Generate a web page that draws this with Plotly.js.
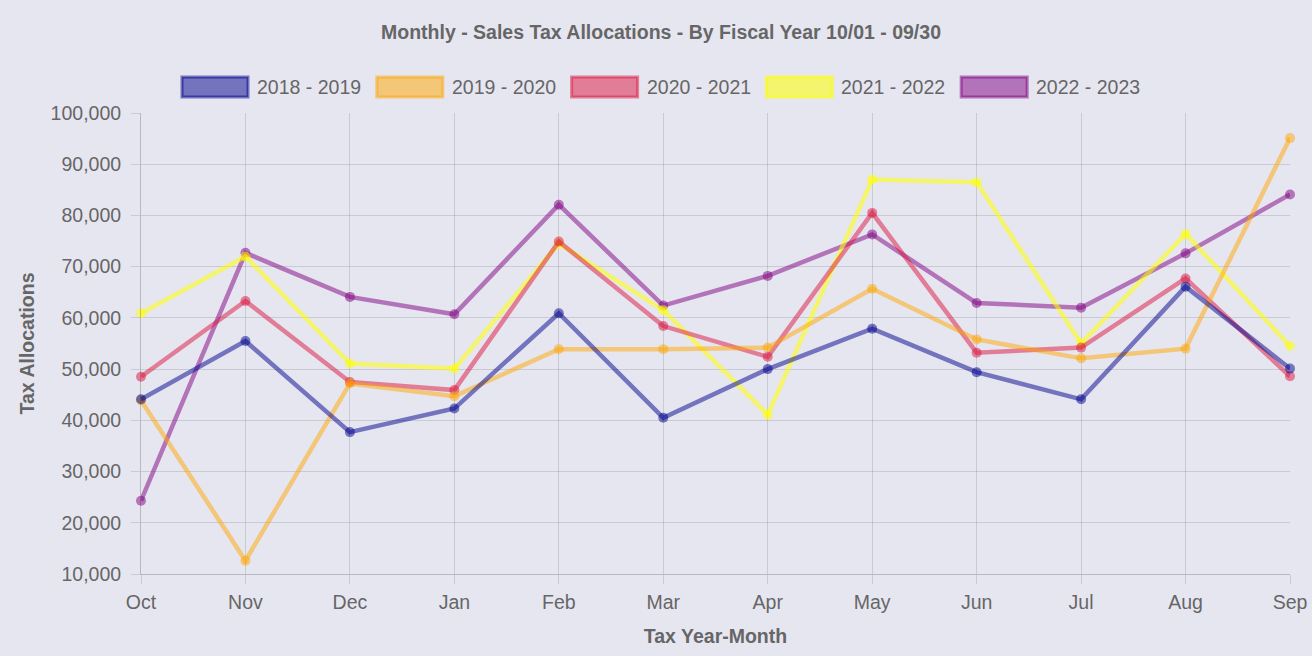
<!DOCTYPE html>
<html>
<head>
<meta charset="utf-8">
<script src="https://cdn.plot.ly/plotly-3.0.1.min.js"></script>
<style>
html,body{margin:0;padding:0;background:#e6e6f1;}
#chart{width:1312px;height:656px;}
</style>
</head>
<body>
<div id="chart"></div>
<script>
const months = ["Oct","Nov","Dec","Jan","Feb","Mar","Apr","May","Jun","Jul","Aug","Sep"];
const seriesNames = ["2018 - 2019","2019 - 2020","2020 - 2021","2021 - 2022","2022 - 2023"];
const fy2018 = [44100, 55500, 37700, 42300, 60900, 40500, 50000, 57900, 49400, 44100, 66100, 50100];
const fy2019 = [43900, 12600, 47200, 44700, 53900, 53900, 54200, 65700, 55800, 52100, 54000, 95100];
const fy2020 = [48500, 63300, 47500, 45900, 74900, 58400, 52400, 80500, 53200, 54200, 67700, 48600];
const fy2021 = [60900, 72000, 51100, 50100, 74500, 61500, 41100, 87000, 86500, 55000, 76400, 54500];
const fy2022 = [24300, 72700, 64100, 60700, 82100, 62400, 68200, 76300, 62900, 62000, 72600, 84100];

const seriesValues = [fy2018, fy2019, fy2020, fy2021, fy2022];
const lineColors = ["rgba(0,0,139,0.5)","rgba(255,165,0,0.5)","rgba(220,20,60,0.5)","rgba(255,255,0,0.55)","rgba(128,0,128,0.5)"];
const fillColors = ["rgba(0,0,139,0.5)","rgba(255,165,0,0.5)","rgba(220,20,60,0.5)","rgba(255,255,0,0.55)","rgba(128,0,128,0.5)"];

const traces = [];
for (let i = seriesValues.length - 1; i >= 0; i--) {
  traces.push({
    type: "scatter",
    mode: "lines+markers",
    name: seriesNames[i],
    x: months,
    y: seriesValues[i],
    line: {color: lineColors[i], width: 4.5},
    marker: {color: lineColors[i], size: 10},
    cliponaxis: false,
    showlegend: false
  });
}

const font = "Liberation Sans, Arial, sans-serif";
const fs = 19.5;
const shapes = [];
const annotations = [];
const legendStart = 182, legendStep = 194.8, boxW = 66, boxH = 20, legendY = 87;
for (let i = 0; i < seriesNames.length; i++) {
  const x0 = legendStart + i * legendStep;
  shapes.push({
    type: "rect", xref: "paper", yref: "paper",
    x0: (x0 - 141) / 1149, x1: (x0 + boxW - 141) / 1149,
    y0: (574 - (legendY + boxH / 2)) / 461, y1: (574 - (legendY - boxH / 2)) / 461,
    fillcolor: fillColors[i], line: {color: lineColors[i], width: 3}
  });
  annotations.push({
    xref: "paper", yref: "paper", xanchor: "left", yanchor: "middle",
    x: (x0 + boxW + 7 - 141) / 1149, y: (574 - legendY) / 461,
    text: seriesNames[i], showarrow: false,
    font: {family: font, size: fs, color: "#666666"}
  });
}

const layout = {
  width: 1312, height: 656,
  paper_bgcolor: "#e6e6f1",
  plot_bgcolor: "#e6e6f1",
  margin: {l: 141, r: 22, t: 113, b: 82},
  title: {
    text: "<b>Monthly - Sales Tax Allocations - By Fiscal Year 10/01 - 09/30</b>",
    font: {family: font, size: 19.5, color: "#666666"},
    x: 661 / 1312, xanchor: "center", y: 1 - 32 / 656, yanchor: "middle", yref: "container"
  },
  xaxis: {
    type: "category",
    range: [0, 11],
    showgrid: true, gridcolor: "rgba(0,0,0,0.12)", gridwidth: 1,
    ticks: "outside", ticklen: 9, tickcolor: "rgba(0,0,0,0.12)",
    ticklabelstandoff: 2,
    showline: true, linecolor: "rgba(0,0,0,0.2)", linewidth: 1,
    zeroline: false,
    tickfont: {family: font, size: fs, color: "#666666"},
    title: {text: "<b>Tax Year-Month</b>", font: {family: font, size: fs, color: "#666666"}, standoff: 16}
  },
  yaxis: {
    range: [10000, 100000],
    dtick: 10000,
    tickformat: ",d",
    showgrid: true, gridcolor: "rgba(0,0,0,0.12)", gridwidth: 1,
    ticks: "outside", ticklen: 9, tickcolor: "rgba(0,0,0,0.12)",
    ticklabelstandoff: 6,
    showline: true, linecolor: "rgba(0,0,0,0.2)", linewidth: 1,
    zeroline: false,
    tickfont: {family: font, size: fs, color: "#666666"},
    title: {text: "<b>Tax Allocations</b>", font: {family: font, size: fs, color: "#666666"}, standoff: 10}
  },
  shapes: shapes,
  annotations: annotations,
  showlegend: false
};

Plotly.newPlot("chart", traces, layout, {displayModeBar: false, staticPlot: true});
</script>
</body>
</html>
